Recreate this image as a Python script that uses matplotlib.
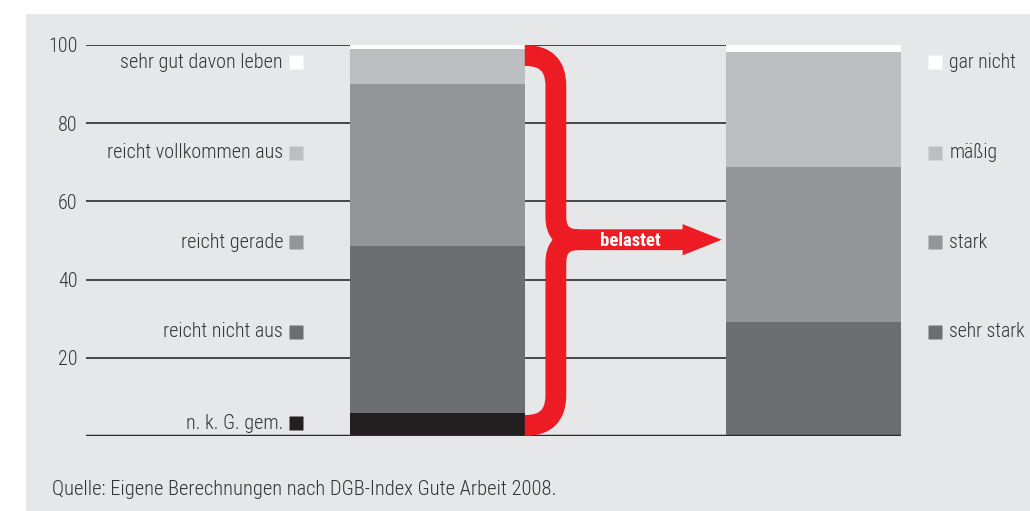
import matplotlib
matplotlib.use("Agg")
import matplotlib.pyplot as plt
from matplotlib.patches import PathPatch
from matplotlib.path import Path
from matplotlib import font_manager

# Schrift: möglichst schmal wie im Original
names = {f.name for f in font_manager.fontManager.ttflist}
fam = "DejaVu Sans"
for kand in ["Liberation Sans Narrow", "Roboto Condensed", "Open Sans Condensed",
             "Noto Sans Condensed", "DejaVu Sans Condensed", "Roboto"]:
    if kand in names:
        fam = kand
        break
plt.rcParams["font.family"] = [fam, "DejaVu Sans"]

# Daten (Anteile in %)
einkommen_labels = ["n. k. G. gem.", "reicht nicht aus", "reicht gerade",
                    "reicht vollkommen aus", "sehr gut davon leben"]
einkommen_werte = [6, 42.5, 41.5, 9, 1]
belastung_labels = ["sehr stark", "stark", "mäßig", "gar nicht"]
belastung_werte = [29.2, 39.6, 29.4, 1.8]
yticks = [20, 40, 60, 80, 100]
quelle = "Quelle: Eigene Berechnungen nach DGB-Index Gute Arbeit 2008."

farben_links = ["#231f20", "#6d6e71", "#939598", "#bcbec0", "#ffffff"]
farben_rechts = ["#6d6e71", "#939598", "#bcbec0", "#ffffff"]
rot = "#ed1c24"
bg = "#e6e7e8"
textfarbe = "#333333"
fs = 14.5

fig = plt.figure(figsize=(10.30, 5.11), dpi=100)
fig.patch.set_facecolor("white")
bgax = fig.add_axes([26 / 1030, 0, 1 - 26 / 1030, (511 - 14) / 511], zorder=-5)
bgax.set_facecolor(bg)
bgax.set_xticks([])
bgax.set_yticks([])
for s in bgax.spines.values():
    s.set_visible(False)

ax = fig.add_axes([86 / 1030, 75 / 511, 815 / 1030, 391 / 511])
ax.set_facecolor("none")
ax.set_xlim(-0.934, 1.2325)
ax.set_ylim(0, 100)
for s in ax.spines.values():
    s.set_visible(False)

# Gitterlinien
for t in yticks:
    ax.axhline(t, color="#3a3a3a", lw=1.3, zorder=1)
ax.axhline(0, color="#2a2a2a", lw=2.5, zorder=5)
ax.set_yticks(yticks)
ax.set_yticklabels([str(t) for t in yticks], fontsize=fs, color=textfarbe,
                   fontweight="light")
ax.tick_params(axis="y", length=0, pad=6)
ax.set_xticks([])

w = 0.465
unten = 0
for v, c in zip(einkommen_werte, farben_links):
    ax.bar(0, v, width=w, bottom=unten, color=c, zorder=3)
    unten += v
unten = 0
for v, c in zip(belastung_werte, farben_rechts):
    ax.bar(1, v, width=w, bottom=unten, color=c, zorder=3)
    unten += v

# Legenden links und rechts
ly = [3.3, 26.6, 49.6, 72.4, 95.6]
for lab, c, y in zip(einkommen_labels, farben_links, ly):
    ax.text(-0.41, y, lab, ha="right", va="center", fontsize=fs,
            color=textfarbe, fontweight="light", clip_on=False)
    ax.plot(-0.377, y, marker="s", ms=9.5, color=c, mec="none",
            clip_on=False)
for lab, c, y in zip(belastung_labels, farben_rechts, ly[1:]):
    ax.text(1.361, y, lab, ha="left", va="center", fontsize=14.2,
            color=textfarbe, fontweight="light", clip_on=False)
    ax.plot(1.323, y, marker="s", ms=9.5, color=c, mec="none",
            clip_on=False)

# Geschweifte Klammer mit Pfeil
x0 = 0.2324
xv = 0.315
rx, ry = 0.08, 7.7
mx, my = 0.06, 5.8
ym = 50.2
top, bot = 97.3, 2.7
shaft_end = 0.66
verts = [(x0, top), (xv - rx, top), (xv, top), (xv, top - ry),
         (xv, ym + my), (xv, ym), (xv + mx, ym), (shaft_end, ym),
         (x0, bot), (xv - rx, bot), (xv, bot), (xv, bot + ry),
         (xv, ym - my), (xv, ym), (xv + mx, ym)]
codes = [Path.MOVETO, Path.LINETO, Path.CURVE3, Path.CURVE3,
         Path.LINETO, Path.CURVE3, Path.CURVE3, Path.LINETO,
         Path.MOVETO, Path.LINETO, Path.CURVE3, Path.CURVE3,
         Path.LINETO, Path.CURVE3, Path.CURVE3]
ax.add_patch(PathPatch(Path(verts, codes), fill=False, edgecolor=rot,
                       lw=15, capstyle="butt", joinstyle="round",
                       zorder=6, clip_on=False))
ax.fill([0.652, 0.756, 0.652], [ym + 4.0, ym, ym - 4.0], color=rot,
        zorder=6, lw=0)
ax.text(0.512, ym - 0.3, "belastet", ha="center", va="center", color="white",
        fontsize=13.5, fontweight="bold", zorder=7)

fig.text(52 / 1030, 1 - 489 / 511, quelle, ha="left", va="center",
         fontsize=14.8, color=textfarbe, fontweight="light")

fig.savefig("out.png", dpi=100, facecolor=fig.get_facecolor())
